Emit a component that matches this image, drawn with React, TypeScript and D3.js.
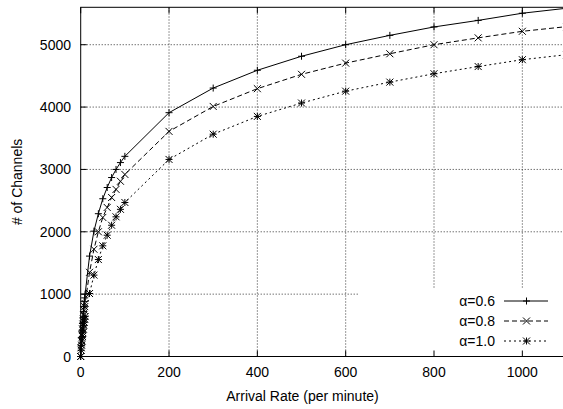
import * as d3 from 'd3';

// arrival rate (per minute) and channel counts
const arrivalRates = [0, 1, 2, 3, 4, 5, 6, 7, 8, 9, 10, 20, 30, 40, 50, 60, 70, 80, 90, 100, 200, 300, 400, 500, 600, 700, 800, 900, 1000, 1100];
const alpha06 = [0, 170, 300, 420, 530, 620, 720, 800, 880, 940, 1000, 1610, 2010, 2290, 2530, 2710, 2870, 3000, 3110, 3210, 3910, 4305, 4590, 4815, 5000, 5150, 5285, 5390, 5505, 5585];
const alpha08 = [0, 140, 250, 350, 440, 520, 600, 670, 740, 800, 850, 1350, 1720, 2000, 2230, 2390, 2550, 2680, 2810, 2920, 3610, 4010, 4295, 4525, 4705, 4855, 5000, 5110, 5215, 5290];
const alpha10 = [0, 100, 180, 250, 320, 380, 440, 500, 550, 600, 640, 1010, 1305, 1555, 1775, 1945, 2105, 2240, 2360, 2470, 3160, 3565, 3850, 4065, 4255, 4400, 4535, 4650, 4760, 4840];

const xTicks = [0, 200, 400, 600, 800, 1000];
const yTicks = [0, 1000, 2000, 3000, 4000, 5000];

const seriesDefs = [
  { label: 'α=0.6', values: alpha06, dash: null, marker: 'plus' },
  { label: 'α=0.8', values: alpha08, dash: '5,3', marker: 'cross' },
  { label: 'α=1.0', values: alpha10, dash: '2,3', marker: 'star' },
];

const W = 563, H = 409;
const FONT = '"Liberation Sans", Arial, Helvetica, sans-serif';

function Marker({ type, x, y }: { type: string; x: number; y: number }) {
  const s = 3.5;
  const plus = `M${x - s},${y}H${x + s}M${x},${y - s}V${y + s}`;
  const cross = `M${x - s},${y - s}L${x + s},${y + s}M${x - s},${y + s}L${x + s},${y - s}`;
  const d = type === 'plus' ? plus : type === 'cross' ? cross : plus + cross;
  return <path d={d} stroke="#000" strokeWidth={1} fill="none" />;
}

export default function App() {
  const x = d3.scaleLinear().domain([0, 1100]).range([80.7, 566.5]);
  const y = d3.scaleLinear().domain([0, 5600]).range([356.5, 7.3]);
  const [x0, x1] = x.range();
  const [yb, yt] = y.range();

  const line = d3.line<[number, number]>().x(d => x(d[0])).y(d => y(d[1]));

  return (
    <svg width={W} height={H} style={{ position: 'absolute', left: 0, top: 0, background: '#fff' }} fontFamily={FONT}>
      {/* grid */}
      <g stroke="#333" strokeWidth={1} strokeDasharray="1,2">
        {xTicks.filter(t => t > 0).map(t => (
          <line key={'gx' + t} x1={x(t)} x2={x(t)} y1={yb} y2={yt} />
        ))}
        {yTicks.filter(t => t > 0).map(t => (
          <line key={'gy' + t} x1={x0} x2={x1} y1={y(t)} y2={y(t)} />
        ))}
      </g>
      {/* legend background */}
      <rect x={358} y={288} width={W - 358} height={yb - 288 - 0.5} fill="#fff" />

      {/* border */}
      <rect x={x0} y={yt} width={x1 - x0} height={yb - yt} fill="none" stroke="#000" strokeWidth={1} />

      {/* ticks */}
      <g stroke="#000" strokeWidth={1}>
        {xTicks.map(t => (
          <g key={'tx' + t}>
            <line x1={x(t)} x2={x(t)} y1={yb} y2={yb - 6} />
            <line x1={x(t)} x2={x(t)} y1={yt} y2={yt + 6} />
          </g>
        ))}
        {yTicks.map(t => (
          <line key={'ty' + t} x1={x0} x2={x0 + 6} y1={y(t)} y2={y(t)} />
        ))}
      </g>

      {/* tick labels */}
      <g fontSize={14} fill="#000">
        {xTicks.map(t => (
          <text key={'lx' + t} x={x(t)} y={377} textAnchor="middle">{t}</text>
        ))}
        {yTicks.map(t => (
          <text key={'ly' + t} x={71} y={y(t) + 5} textAnchor="end">{t}</text>
        ))}
      </g>

      {/* axis titles */}
      <text x={(x0 + 522.3) / 2 + 1} y={401} fontSize={14} textAnchor="middle">Arrival Rate (per minute)</text>
      <text transform={`translate(22, ${(yb + yt) / 2}) rotate(-90)`} fontSize={14} textAnchor="middle">
        # of Channels
      </text>

      {/* series */}
      {seriesDefs.map(s => {
        const pts: [number, number][] = arrivalRates.map((r, i) => [r, s.values[i]]);
        return (
          <g key={s.label}>
            <path d={line(pts) || ''} fill="none" stroke="#000" strokeWidth={1} strokeDasharray={s.dash || undefined} />
            {pts.map((p, i) => (
              <Marker key={i} type={s.marker} x={x(p[0])} y={y(p[1])} />
            ))}
          </g>
        );
      })}

      {/* legend */}
      {seriesDefs.map((s, i) => {
        const ly = 301 + i * 20;
        return (
          <g key={'leg' + s.label}>
            <text x={495} y={ly + 5} fontSize={14} textAnchor="end">{s.label}</text>
            <line x1={504} x2={548} y1={ly} y2={ly} stroke="#000" strokeWidth={1} strokeDasharray={s.dash || undefined} />
            <Marker type={s.marker} x={526.5} y={ly} />
          </g>
        );
      })}
    </svg>
  );
}
